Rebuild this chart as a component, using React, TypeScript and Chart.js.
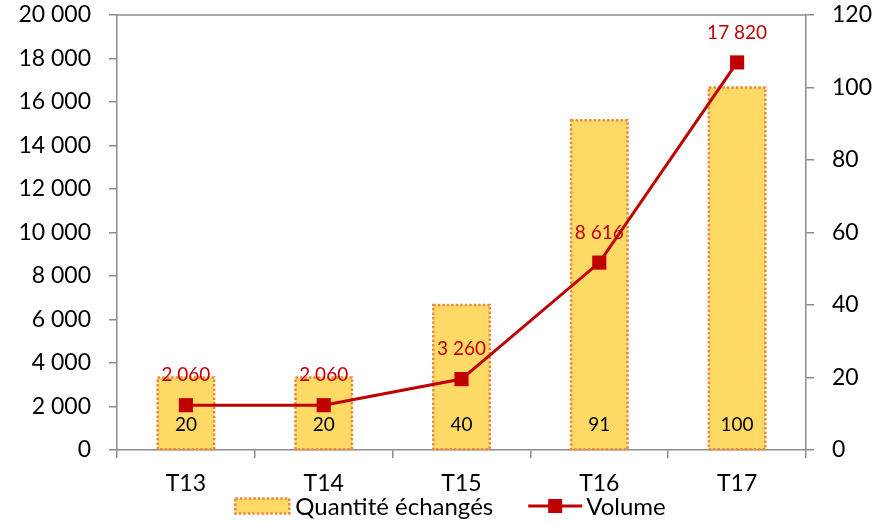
import React, { useEffect, useRef } from 'react';
import { Chart, registerables } from 'chart.js';

Chart.register(...registerables);

const categories = ['T13', 'T14', 'T15', 'T16', 'T17'];
const quantite = [20, 20, 40, 91, 100];
const volume = [2060, 2060, 3260, 8616, 17820];
const seriesNames = ['Quantité échangés', 'Volume'];
const leftMax = 20000;
const leftStep = 2000;
const rightMax = 120;
const rightStep = 20;

const FONT = 'Lato, "Open Sans", sans-serif';
const GRAY = '#8c8c8c';
const BAR_FILL = '#FFD966';
const BAR_BORDER = '#F0883A';
const LINE = '#C00000';

const fmt = (n: number) => String(n).replace(/\B(?=(\d{3})+(?!\d))/g, ' ');

const dottedBorders = {
  id: 'dottedBorders',
  afterDatasetDraw(chart: any, args: any) {
    if (args.meta.type !== 'bar') return;
    const ctx = chart.ctx;
    ctx.save();
    ctx.setLineDash([2.5, 2]);
    ctx.lineWidth = 2.5;
    ctx.strokeStyle = BAR_BORDER;
    args.meta.data.forEach((el: any) => {
      const { x, y, base, width } = el.getProps(['x', 'y', 'base', 'width'], true);
      ctx.strokeRect(x - width / 2, y, width, base - y);
    });
    ctx.restore();
  },
};

const frame = {
  id: 'frame',
  beforeDatasetsDraw(chart: any) {
    const { ctx, chartArea } = chart;
    ctx.save();
    ctx.strokeStyle = GRAY;
    ctx.lineWidth = 1.5;
    ctx.beginPath();
    ctx.moveTo(chartArea.left, chartArea.top);
    ctx.lineTo(chartArea.right, chartArea.top);
    ctx.stroke();
    ctx.restore();
  },
};

const dataLabels = {
  id: 'dataLabels',
  afterDatasetsDraw(chart: any) {
    const ctx = chart.ctx;
    ctx.save();
    ctx.textAlign = 'center';
    ctx.textBaseline = 'middle';
    ctx.font = `19px ${FONT}`;
    chart.data.datasets.forEach((ds: any, i: number) => {
      const meta = chart.getDatasetMeta(i);
      meta.data.forEach((el: any, j: number) => {
        const v = ds.data[j];
        if (meta.type === 'bar') {
          const { x, base } = el.getProps(['x', 'base'], true);
          ctx.fillStyle = '#000';
          ctx.fillText(fmt(v), x, base - 24);
        } else {
          const { x, y } = el.getProps(['x', 'y'], true);
          ctx.fillStyle = LINE;
          ctx.fillText(fmt(v), x, y - 30);
        }
      });
    });
    ctx.restore();
  },
};

const customLegend = {
  id: 'customLegend',
  afterDraw(chart: any) {
    const ctx = chart.ctx;
    ctx.save();
    ctx.font = `24px ${FONT}`;
    ctx.textBaseline = 'middle';
    ctx.textAlign = 'left';
    const sw = 54;
    const w1 = ctx.measureText(seriesNames[0]).width;
    const w2 = ctx.measureText(seriesNames[1]).width;
    const total = sw + 6 + w1 + 35 + sw + 4 + w2;
    const cy = chart.height - 17;
    let x = chart.width / 2 + 7 - total / 2;
    ctx.fillStyle = BAR_FILL;
    ctx.fillRect(x, cy - 7.5, sw, 15);
    ctx.setLineDash([2.5, 2]);
    ctx.lineWidth = 2.5;
    ctx.strokeStyle = BAR_BORDER;
    ctx.strokeRect(x, cy - 7.5, sw, 15);
    ctx.setLineDash([]);
    x += sw + 6;
    ctx.fillStyle = '#000';
    ctx.fillText(seriesNames[0], x, cy + 1);
    x += w1 + 35;
    ctx.strokeStyle = LINE;
    ctx.lineWidth = 3;
    ctx.beginPath();
    ctx.moveTo(x, cy);
    ctx.lineTo(x + sw, cy);
    ctx.stroke();
    ctx.fillStyle = LINE;
    ctx.fillRect(x + sw / 2 - 7, cy - 7, 14, 14);
    x += sw + 4;
    ctx.fillStyle = '#000';
    ctx.fillText(seriesNames[1], x, cy + 1);
    ctx.restore();
  },
};

export default function App() {
  const ref = useRef<HTMLCanvasElement | null>(null);

  useEffect(() => {
    if (!ref.current) return;
    const tickFont = { family: FONT, size: 23 };
    const chart = new Chart(ref.current, {
      type: 'bar',
      data: {
        labels: categories,
        datasets: [
          {
            type: 'bar',
            label: seriesNames[0],
            data: quantite,
            yAxisID: 'y1',
            backgroundColor: BAR_FILL,
            borderWidth: 0,
            barPercentage: 0.41,
            categoryPercentage: 1,
            order: 1,
          } as any,
          {
            type: 'line',
            label: seriesNames[1],
            data: volume,
            yAxisID: 'y',
            borderColor: LINE,
            borderWidth: 3,
            pointStyle: 'rect',
            pointRadius: 10,
            pointBackgroundColor: LINE,
            pointBorderColor: LINE,
            pointBorderWidth: 0,
            tension: 0,
            order: 0,
          } as any,
        ],
      },
      options: {
        responsive: false,
        animation: false,
        layout: { padding: { top: 15, left: 0, right: 0, bottom: 0 } },
        plugins: {
          legend: { display: false },
          tooltip: { enabled: false },
        },
        scales: {
          x: {
            offset: true,
            grid: { display: true, drawOnChartArea: false, drawTicks: true, tickLength: 8, color: GRAY, lineWidth: 1.5, offset: true },
            border: { display: true, color: GRAY, width: 1.5 },
            ticks: { font: tickFont, color: '#000', padding: 12 },
            afterFit: (s: any) => { s.height = 73; s.paddingLeft = 0; s.paddingRight = 0; },
          },
          y: {
            position: 'left',
            min: 0,
            max: leftMax,
            grid: { drawOnChartArea: false, drawTicks: true, tickLength: 8, color: GRAY, lineWidth: 1.5 },
            border: { display: true, color: GRAY, width: 1.5 },
            ticks: { stepSize: leftStep, font: tickFont, color: '#000', padding: 18, callback: (v: any) => fmt(Number(v)) },
            afterFit: (s: any) => { s.width = 117; s.paddingTop = 0; s.paddingBottom = 0; },
          },
          y1: {
            position: 'right',
            min: 0,
            max: rightMax,
            grid: { drawOnChartArea: false, drawTicks: true, tickLength: 8, color: GRAY, lineWidth: 1.5 },
            border: { display: true, color: GRAY, width: 1.5 },
            ticks: { stepSize: rightStep, font: tickFont, color: '#000', padding: 18 },
            afterFit: (s: any) => { s.width = 81; s.paddingTop = 0; s.paddingBottom = 0; },
          },
        },
      } as any,
      plugins: [dottedBorders, frame, dataLabels, customLegend],
    });
    return () => chart.destroy();
  }, []);

  return (
    <div style={{ position: 'absolute', left: 0, top: 0, width: 887, height: 523, background: '#fff' }}>
      <canvas ref={ref} width={887} height={523} style={{ display: 'block' }} />
    </div>
  );
}
